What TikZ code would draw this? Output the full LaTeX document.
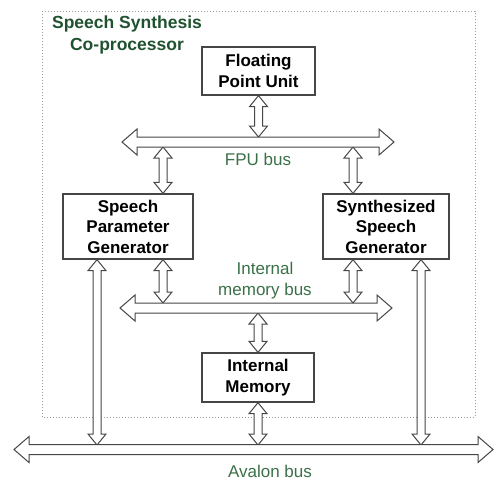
\documentclass[tikz,border=0pt]{standalone}
\usepackage{fontspec}
\setmainfont{Liberation Sans}
\usetikzlibrary{calc}
\definecolor{titlegreen}{RGB}{32,82,48}
\definecolor{labelgreen}{RGB}{58,112,72}
\definecolor{edgegray}{RGB}{70,70,70}
\tikzset{
  unitbox/.style={draw=edgegray, line width=1.3pt, fill=white, align=center,
    font=\bfseries\fontsize{17}{20.5}\selectfont, inner sep=0pt},
  busnode/.style={inner sep=0pt, outer sep=0pt},
  blockarr/.style={draw=edgegray, line width=1pt, fill=white, line join=miter},
  buslabel/.style={text=labelgreen, align=center, font=\fontsize{17}{21}\selectfont},
}
% vertical double block arrow: #1 top tip, #2 bottom tip
\newcommand{\vdblarrow}[2]{%
  \draw[blockarr] let \p1=#1, \p2=#2 in
    (\x1,\y1) -- (\x1+9pt,\y1-11pt) -- (\x1+4pt,\y1-11pt) -- (\x1+4pt,\y2+11pt)
    -- (\x1+9pt,\y2+11pt) -- (\x1,\y2) -- (\x1-9pt,\y2+11pt) -- (\x1-4pt,\y2+11pt)
    -- (\x1-4pt,\y1-11pt) -- (\x1-9pt,\y1-11pt) -- cycle;}
% horizontal double block arrow: #1 left tip, #2 right tip
\newcommand{\hdblarrow}[2]{%
  \draw[blockarr] let \p1=#1, \p2=#2 in
    (\x1,\y1) -- (\x1+15pt,\y1+13pt) -- (\x1+15pt,\y1+5pt) -- (\x2-15pt,\y1+5pt)
    -- (\x2-15pt,\y1+13pt) -- (\x2,\y1) -- (\x2-15pt,\y1-13pt) -- (\x2-15pt,\y1-5pt)
    -- (\x1+15pt,\y1-5pt) -- (\x1+15pt,\y1-13pt) -- cycle;}
\begin{document}
\begin{tikzpicture}[x=1pt,y=-1pt]
\useasboundingbox (0,0) rectangle (494,480);
% co-processor frame
\draw[gray!80, line width=1pt, dash pattern=on 1pt off 2pt] (42,11) rectangle (475,417);
\node[text=titlegreen, align=center, font=\bfseries\fontsize{17.5}{22}\selectfont] (title) at (127,35) {Speech Synthesis\\Co-processor};

% blocks
\node[unitbox, minimum width=113, minimum height=48] (fpu) at (258.5,71) {Floating\\Point Unit};
\node[unitbox, minimum width=130, minimum height=65] (spg) at (128,226.5) {Speech\\Parameter\\Generator};
\node[unitbox, minimum width=126, minimum height=65] (ssg) at (386,226.5) {Synthesized\\Speech\\Generator};
\node[unitbox, minimum width=112, minimum height=49] (im) at (258,377.5) {Internal\\Memory};

% buses (shaft extents)
\node[busnode, minimum width=272, minimum height=10] (fpubus) at (258,142) {};
\node[busnode, minimum width=272, minimum height=10] (imbus) at (256,308) {};
\node[busnode, minimum width=479, minimum height=9] (avbus) at (253.5,449.5) {};

\coordinate (xl) at (163,0);
\coordinate (xr) at (353,0);
\coordinate (xll) at (97,0);
\coordinate (xrr) at (421,0);

% vertical arrows
\vdblarrow{(fpu.south)}{(fpu.south |- fpubus.north)}
\vdblarrow{(fpubus.south -| xl)}{(spg.north -| xl)}
\vdblarrow{(fpubus.south -| xr)}{(ssg.north -| xr)}
\vdblarrow{(spg.south -| xl)}{(imbus.north -| xl)}
\vdblarrow{(ssg.south -| xr)}{(imbus.north -| xr)}
\vdblarrow{(imbus.south -| im.north)}{(im.north)}
\vdblarrow{(im.south)}{(avbus.north -| im.south)}
\vdblarrow{(spg.south -| xll)}{(avbus.north -| xll)}
\vdblarrow{(ssg.south -| xrr)}{(avbus.north -| xrr)}

% buses
\hdblarrow{(fpubus.west)}{(fpubus.east)}
\hdblarrow{(imbus.west)}{(imbus.east)}
\hdblarrow{(avbus.west)}{(avbus.east)}

% bus labels
\node[buslabel] (fpulabel) at (258,159) {FPU bus};
\node[buslabel] (imlabel) at (265,281) {Internal\\memory bus};
\node[buslabel] (avlabel) at (270,471) {Avalon bus};
\end{tikzpicture}
\end{document}
